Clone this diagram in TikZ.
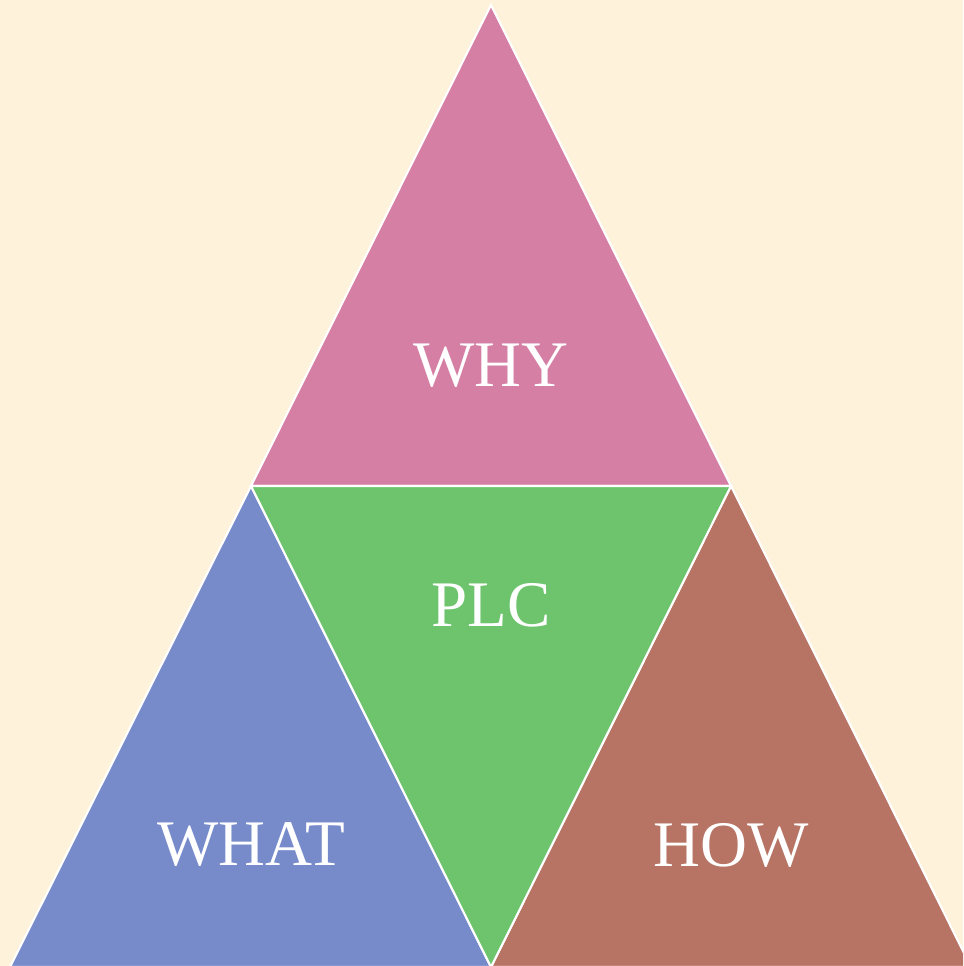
\documentclass[tikz,border=0pt]{standalone}
\usepackage{fontspec}
\setmainfont{Liberation Serif}
\definecolor{bgcream}{HTML}{FEF2DB}
\definecolor{whypink}{HTML}{D57FA5}
\definecolor{plcgreen}{HTML}{6DC46D}
\definecolor{whatblue}{HTML}{778BCB}
\definecolor{howbrown}{HTML}{B77464}
\tikzset{
  part/.style={draw=white, line width=1.2pt, line join=miter},
  word/.style={text=white, font=\fontsize{37}{40}\selectfont}
}
\begin{document}
\begin{tikzpicture}[x=0.02cm, y=-0.02cm]
      \useasboundingbox (0,0) rectangle (963,966);
      \clip (0,0) rectangle (963,966);
      \fill[bgcream] (0,0) rectangle (963,966);

      % corners
      \coordinate (top) at (491,5);
      \coordinate (ml) at (251,486);
      \coordinate (mr) at (731,486);
      \coordinate (bl) at (10,967);
      \coordinate (bm) at (491,967);
      \coordinate (br) at (971,967);

      \draw[part, fill=whypink] (top) -- (mr) -- (ml) -- cycle;
      \draw[part, fill=whatblue] (ml) -- (bm) -- (bl) -- cycle;
      \draw[part, fill=howbrown] (mr) -- (br) -- (bm) -- cycle;
      \draw[part, fill=plcgreen] (ml) -- (mr) -- (bm) -- cycle;

      \node[word] (why) at (491,366) {WHY};
      \node[word] (plc) at (491,605) {PLC};
      \node[word] (what) at (251,845) {WHAT};
      \node[word] (how) at (731,845) {HOW};

    \end{tikzpicture}
\end{document}
